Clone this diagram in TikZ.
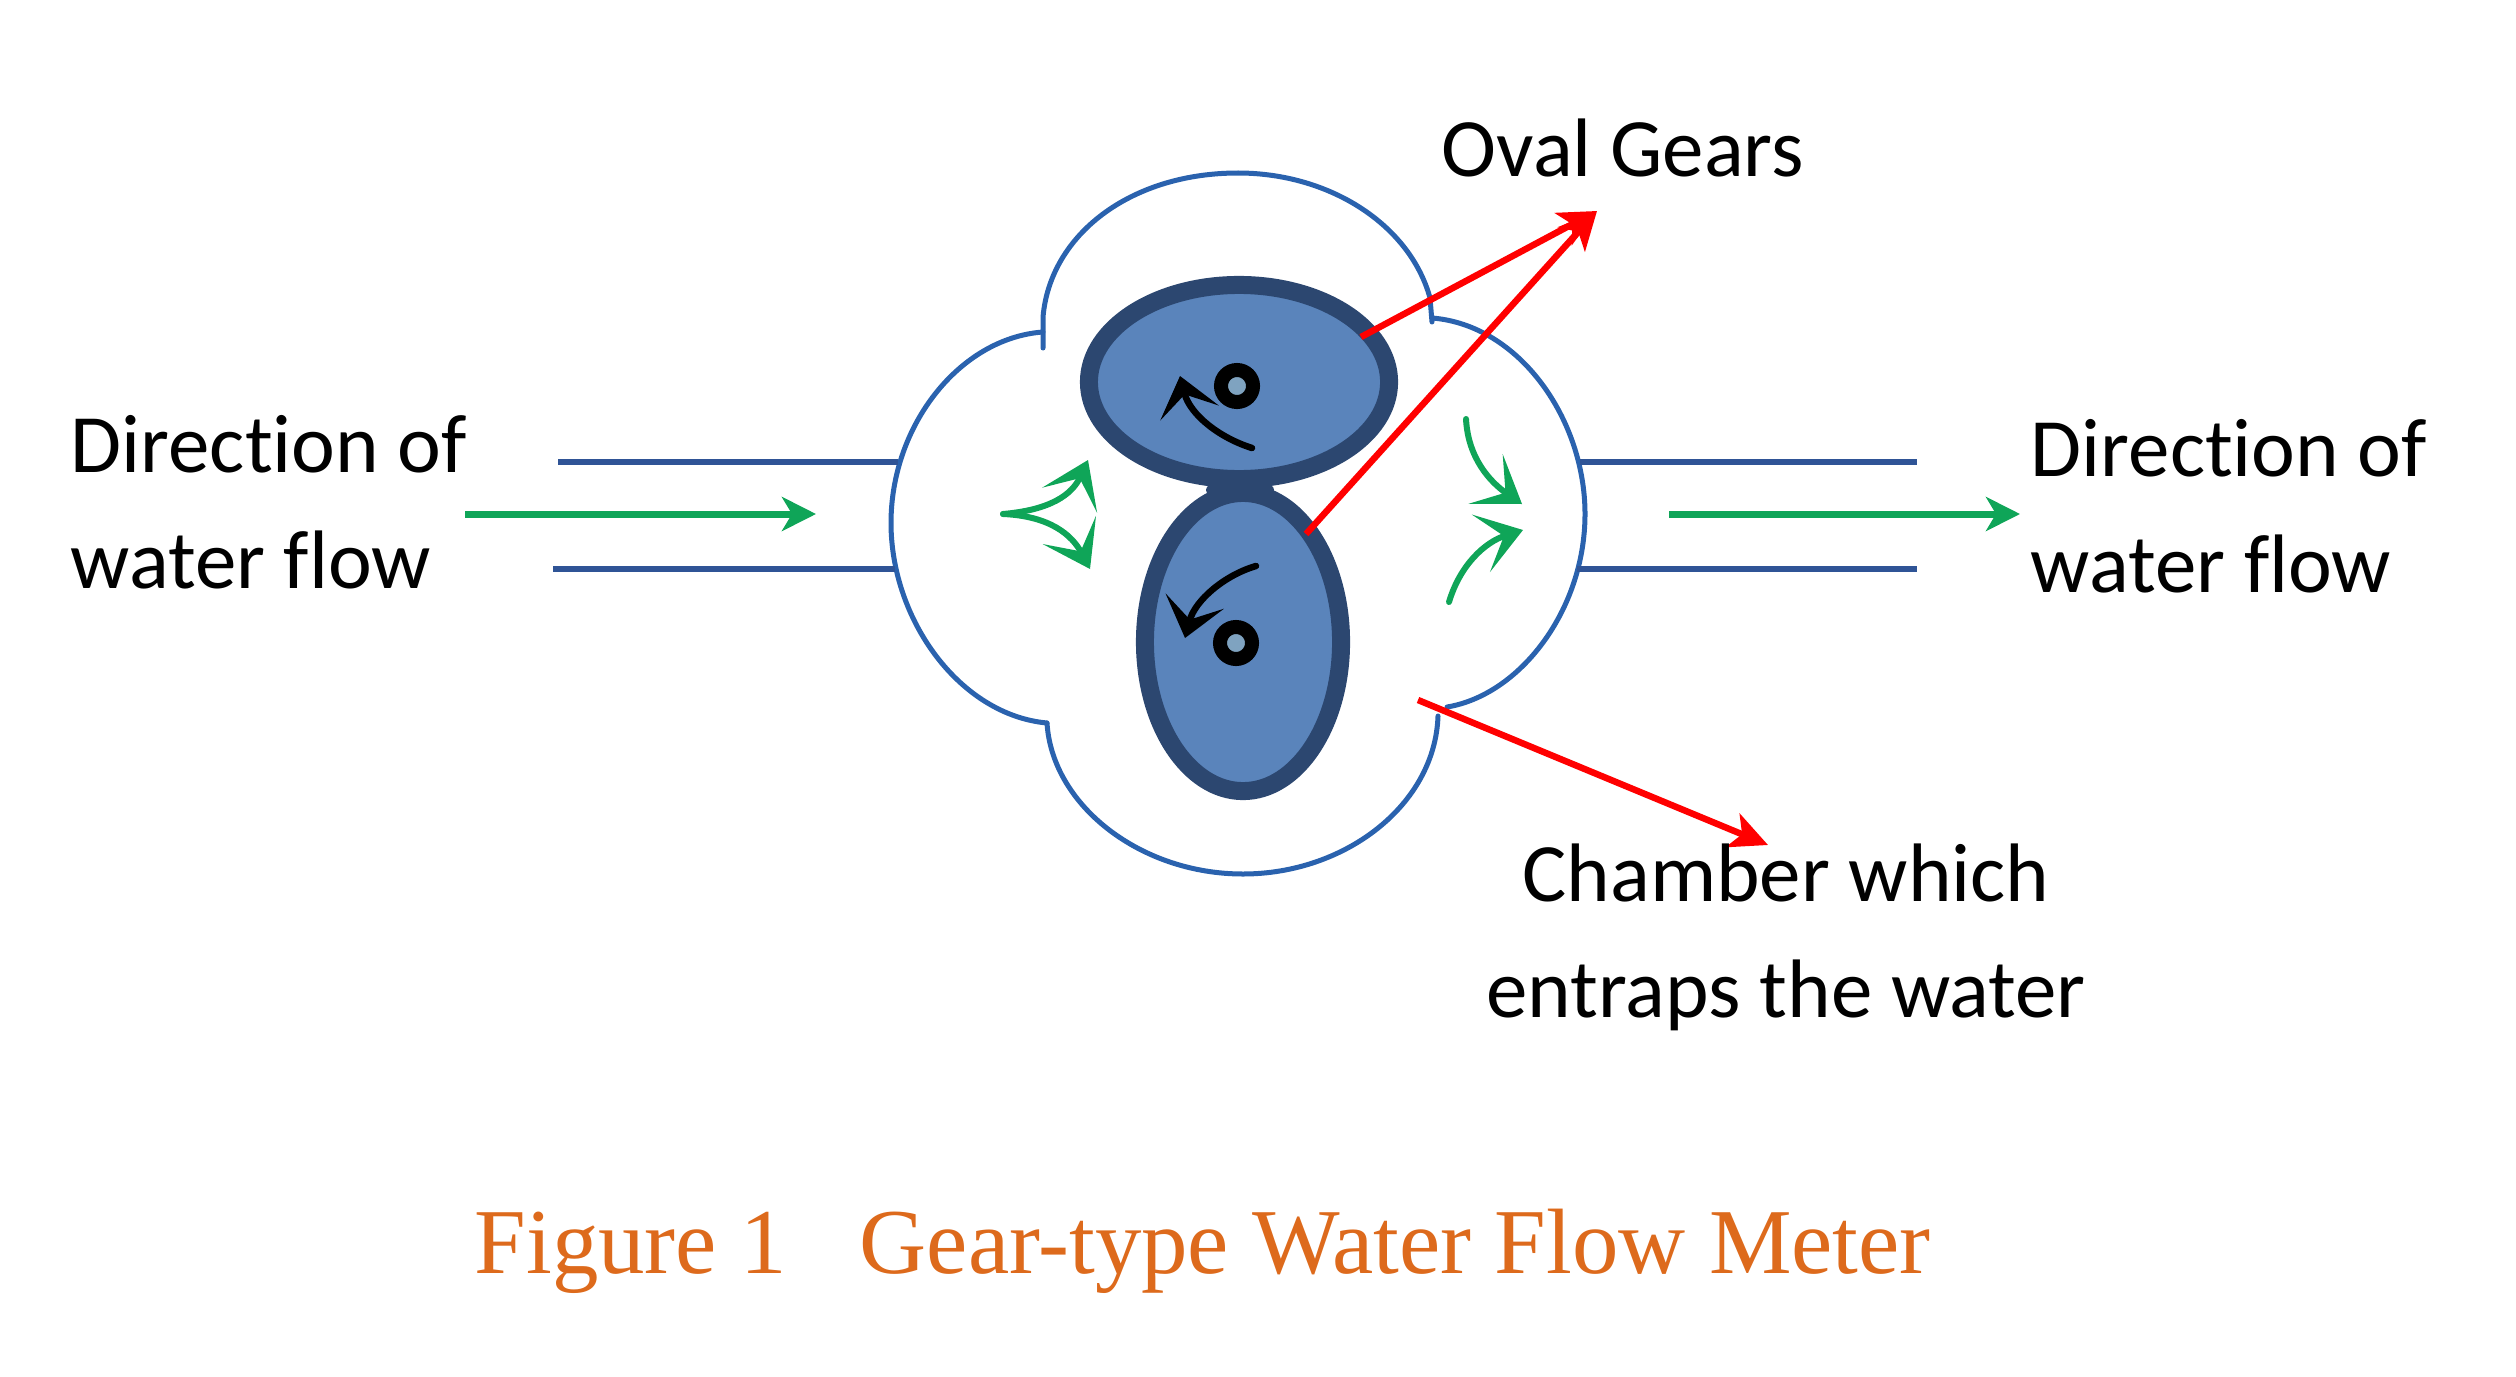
\documentclass[tikz,border=0pt]{standalone}
\usepackage{fontspec}
\setmainfont[Ligatures=NoCommon]{Carlito}
\newfontfamily\capfont{Liberation Serif}
\usetikzlibrary{arrows.meta,shapes.geometric}
\definecolor{wall}{HTML}{2A62AE}
\definecolor{pipe}{HTML}{2F5496}
\definecolor{rim}{HTML}{2C4770}
\definecolor{body}{HTML}{5A84BB}
\definecolor{axle}{HTML}{7FA3C0}
\definecolor{flow}{HTML}{0FA558}
\definecolor{cap}{HTML}{DD6A1C}
\tikzset{
	gear/.style={draw=rim,fill=body,ellipse,line width=.18cm,inner sep=0pt},
	hub/.style={draw=black,fill=axle,circle,line width=.14cm,minimum size=.32cm,inner sep=0pt},
	wallline/.style={draw=wall,line width=.05cm,line cap=round},
	pipeline/.style={draw=pipe,line width=.055cm},
	flowline/.style={draw=flow,line width=.07cm,-{Stealth[length=.34cm,width=.34cm,inset=.1cm]}},
	swirl/.style={draw=flow,line width=.06cm,line cap=round,-{Stealth[length=.44cm,width=.6cm,inset=.24cm]}},
	spin/.style={draw=black,line width=.065cm,line cap=round,-{Stealth[length=.38cm,width=.6cm,inset=.19cm]}},
	pointer/.style={draw=red,line width=.065cm,-{Stealth[length=.38cm,width=.36cm,inset=.1cm]}},
	label/.style={font=\fontsize{23.6}{33}\selectfont,align=left,inner sep=0pt},
}
\begin{document}
\begin{tikzpicture}[x=.01cm,y=-.01cm]
		\useasboundingbox(0,0)rectangle(2516,1376);
		\draw[wallline](1043,348)--(1043,317).. controls (1050,235) and (1130,173) .. (1238,173).. controls (1330,173) and (1410,225) .. (1430,298)--(1432,322);
		\draw[wallline](1432,318).. controls (1520,325) and (1585,420) .. (1585,514).. controls (1585,610) and (1520,695) .. (1447,707);
		\draw[wallline](1438,716).. controls (1435,805) and (1345,874) .. (1243,874).. controls (1140,874) and (1052,805) .. (1047,723);
		\draw[wallline](1047,723).. controls (960,715) and (891,620) .. (891,523).. controls (891,425) and (960,338) .. (1043,332);
		\coordinate(PipeInTopA)at(558,462);
		\coordinate(PipeInTopB)at(898,462);
		\coordinate(PipeInLowA)at(553,569);
		\coordinate(PipeInLowB)at(895,569);
		\coordinate(PipeOutTopA)at(1580,462);
		\coordinate(PipeOutTopB)at(1917,462);
		\coordinate(PipeOutLowA)at(1577,569);
		\coordinate(PipeOutLowB)at(1917,569);
		\draw[pipeline](PipeInTopA)--(PipeInTopB);
		\draw[pipeline](PipeInLowA)--(PipeInLowB);
		\draw[pipeline](PipeOutTopA)--(PipeOutTopB);
		\draw[pipeline](PipeOutLowA)--(PipeOutLowB);
		\coordinate(FlowInA)at(465,514);
		\coordinate(FlowInB)at(816,514);
		\coordinate(FlowOutA)at(1669,514);
		\coordinate(FlowOutB)at(2020,514);
		\draw[flowline](FlowInA)--(FlowInB);
		\draw[flowline](FlowOutA)--(FlowOutB);
		\fill[rim](1240,490)ellipse(34 and 12);
		\node(GearTop)[gear,minimum width=3.0cm,minimum height=1.94cm]at(1239,382){};
		\node(GearLow)[gear,minimum width=1.96cm,minimum height=2.98cm]at(1243,642){};
		\node(HubTop)[hub]at(1237,386){};
		\node(HubLow)[hub]at(1236,643){};
		\coordinate(SpinTopA)at(1252,448);
		\coordinate(SpinTopB)at(1180,376);
		\coordinate(SpinLowA)at(1256,566);
		\coordinate(SpinLowB)at(1185,638);
		\draw[spin](SpinTopA).. controls (1220,438) and (1190,415) .. (SpinTopB);
		\draw[spin](SpinLowA).. controls (1225,575) and (1195,600) .. (SpinLowB);
		\coordinate(SwirlL)at(1003,514);
		\coordinate(SwirlLA)at(1088,460);
		\coordinate(SwirlLB)at(1090,569);
		\draw[swirl](SwirlL).. controls (1050,510) and (1072,495) .. (SwirlLA);
		\draw[swirl](SwirlL).. controls (1050,516) and (1072,535) .. (SwirlLB);
		\coordinate(SwirlRA)at(1466,419);
		\coordinate(SwirlRB)at(1522,504);
		\coordinate(SwirlRC)at(1449,602);
		\coordinate(SwirlRD)at(1523,530);
		\draw[swirl](SwirlRA).. controls (1468,458) and (1490,482) .. (SwirlRB);
		\draw[swirl](SwirlRC).. controls (1460,565) and (1485,542) .. (SwirlRD);
		\coordinate(PtrTop)at(1361,337);
		\coordinate(PtrLow)at(1306,534);
		\coordinate(PtrTip)at(1597,211);
		\coordinate(PtrCham)at(1418,700);
		\coordinate(PtrChamTip)at(1768,845);
		\draw[pointer](PtrTop)--(PtrTip);
		\draw[pointer](PtrLow)--(PtrTip);
		\draw[pointer](PtrCham)--(PtrChamTip);
		\node(LabGears)[label,anchor=base west]at(1441,176){Oval Gears};
		\node(LabIn)[label,anchor=west]at(70,502){Direction of\\water flow};
		\node(LabOut)[label,anchor=west]at(2030,506){Direction of\\water flow};
		\node(LabCham)[label,anchor=center,align=center]at(1786,937){Chamber which\\entraps the water};
		\node(Caption)[anchor=base west,inner sep=0pt,text=cap,font=\capfont\fontsize{26.4}{30}\selectfont]at(474,1273){Figure 1\ \ \ \hspace{1pt}Gear-type Water Flow Meter};
	\end{tikzpicture}
\end{document}
